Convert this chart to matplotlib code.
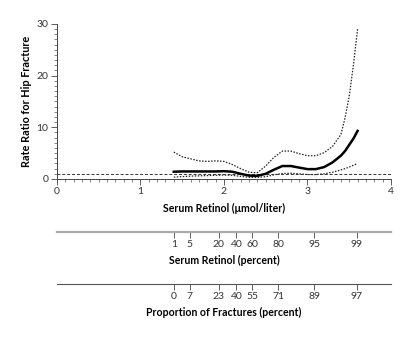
import numpy as np
import matplotlib.pyplot as plt
from matplotlib.ticker import MultipleLocator

plt.rcParams['font.family'] = ['Lato', 'DejaVu Sans']

# serum retinol (umol/liter) and the spline estimate with 95% limits
retinol = [1.4, 1.5, 1.6, 1.7, 1.8, 1.9, 2.0, 2.1, 2.2, 2.3, 2.4, 2.5, 2.6,
           2.7, 2.8, 2.9, 3.0, 3.1, 3.2, 3.3, 3.4, 3.45, 3.5, 3.55, 3.6]
rate_ratio = [1.4, 1.45, 1.45, 1.45, 1.45, 1.45, 1.5, 1.4, 1.0, 0.65, 0.6, 1.0, 1.8,
              2.5, 2.5, 2.2, 1.9, 1.9, 2.3, 3.2, 4.5, 5.4, 6.6, 7.8, 9.3]
upper = [5.2, 4.3, 3.9, 3.5, 3.4, 3.5, 3.4, 2.8, 2.0, 1.3, 1.2, 2.5, 4.2,
         5.4, 5.4, 4.9, 4.5, 4.5, 5.1, 6.3, 8.6, 11.8, 16.0, 22.0, 29.0]
lower = [0.35, 0.45, 0.55, 0.6, 0.65, 0.7, 0.75, 0.7, 0.5, 0.32, 0.3, 0.45, 0.8,
         1.05, 1.1, 1.0, 0.85, 0.85, 1.0, 1.3, 1.75, 2.0, 2.3, 2.65, 3.0]

# percentile scales placed along the retinol axis
pct_pos = [1.40, 1.59, 1.94, 2.15, 2.34, 2.65, 3.08, 3.59]
retinol_pct = ['1', '5', '20', '40', '60', '80', '95', '99']
fracture_pct = ['0', '7', '23', '40', '55', '71', '89', '97']

fig = plt.figure(figsize=(4.12, 3.37), dpi=100)
ax = fig.add_axes([0.138, 0.469, 0.811, 0.46])

ax.axhline(1, color='#333333', lw=0.7, ls=(0, (3, 2)))
ax.plot(retinol, upper, color='#222222', lw=0.9, ls=(0, (1.2, 1.2)))
ax.plot(retinol, lower, color='#222222', lw=0.9, ls=(0, (1.2, 1.2)))
ax.plot(retinol, rate_ratio, color='black', lw=1.8)

ax.set_xlim(0, 4)
ax.set_ylim(0, 30)
ax.xaxis.set_major_locator(MultipleLocator(1))
ax.xaxis.set_minor_locator(MultipleLocator(0.1))
ax.yaxis.set_major_locator(MultipleLocator(10))
ax.yaxis.set_minor_locator(MultipleLocator(1))
for s in ['top', 'right']:
    ax.spines[s].set_visible(False)
for s in ['left', 'bottom']:
    ax.spines[s].set_color('#444444')
    ax.spines[s].set_linewidth(0.7)
ax.tick_params(which='major', length=4, width=0.6, color='#444444', labelsize=7.5,
               labelcolor='#333333', pad=2)
ax.tick_params(which='minor', length=2.5, width=0.5, color='#555555')
ax.set_xlabel('Serum Retinol (μmol/liter)', fontsize=7.6, fontweight='bold', labelpad=5)
ax.set_ylabel('Rate Ratio for Hip Fracture', fontsize=7.8, fontweight='bold', labelpad=3)


def pct_axis(ypos, labels, title, lcolor, lw):
    a = fig.add_axes([0.138, ypos, 0.811, 0.001])
    a.set_xlim(0, 4)
    a.set_yticks([])
    for s in ['top', 'right', 'left']:
        a.spines[s].set_visible(False)
    a.spines['bottom'].set_color(lcolor)
    a.spines['bottom'].set_linewidth(lw)
    a.set_xticks(pct_pos)
    a.set_xticklabels(labels)
    a.tick_params(length=4, width=0.6, color='#444444', labelsize=7.5,
                  labelcolor='#333333', pad=2)
    a.set_xlabel(title, fontsize=7.6, fontweight='bold', labelpad=4)
    a.patch.set_visible(False)


pct_axis(0.312, retinol_pct, 'Serum Retinol (percent)', '#aaaaaa', 1.6)
pct_axis(0.157, fracture_pct, 'Proportion of Fractures (percent)', '#555555', 0.8)

fig.savefig('out.png', dpi=100)
